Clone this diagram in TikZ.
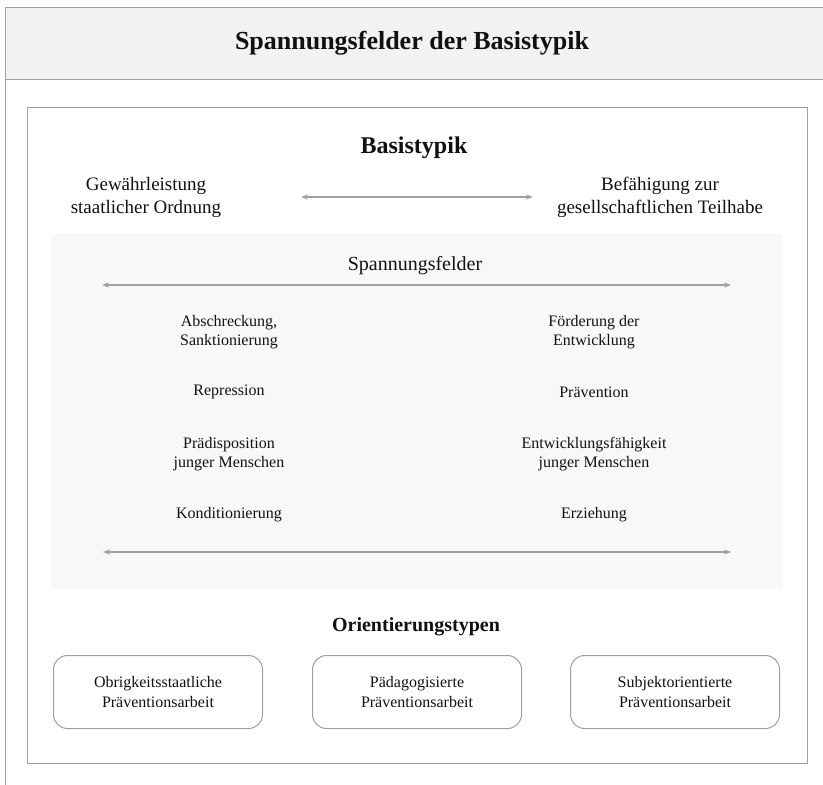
\documentclass[tikz,border=0pt]{standalone}
\usepackage{fontspec}
\setmainfont{Liberation Serif}
\usetikzlibrary{arrows.meta}
\definecolor{hdrfill}{HTML}{F2F2F2}
\definecolor{fieldfill}{HTML}{F8F8F8}
\definecolor{framegray}{HTML}{A0A0A0}
\definecolor{arrowgray}{HTML}{A0A0A0}
\definecolor{textblack}{HTML}{111111}
\tikzset{
  frameline/.style={draw=framegray, line width=1pt},
  txt/.style={text=textblack, inner sep=0pt, align=center},
  bigtxt/.style={txt, font=\fontsize{19}{23}\selectfont},
  midtxt/.style={txt, font=\fontsize{16}{19.5}\selectfont},
  biarrow/.style={draw=arrowgray, line width=1.2pt, {Stealth[length=7pt,width=5pt]}-{Stealth[length=7pt,width=5pt]}},
  typebox/.style={draw=framegray, line width=1pt, rounded corners=14pt, minimum width=209pt, minimum height=73pt, fill=white, text=textblack, align=center, font=\fontsize{16}{19.5}\selectfont, inner sep=0pt}
}
\begin{document}
\begin{tikzpicture}[x=1pt,y=-1pt]
\useasboundingbox (0,0) rectangle (823,785);
% outer frame
\draw[frameline] (5,7) -- (5,785);
\fill[hdrfill] (5,7) rectangle (830,79);
\draw[frameline] (830,7) -- (5,7) -- (5,79) -- (830,79);
\node[txt, font=\fontsize{26}{31}\selectfont\bfseries] (title) at (412,43) {Spannungsfelder der Basistypik};
% inner box
\draw[frameline, fill=white] (27,107) rectangle (807,763);
\node[txt, font=\fontsize{24}{29}\selectfont\bfseries] (basis) at (414,148) {Basistypik};
\node[bigtxt] (gew) at (146,197) {Gewährleistung\\staatlicher Ordnung};
\node[bigtxt] (bef) at (660,197) {Befähigung zur\\gesellschaftlichen Teilhabe};
\coordinate (ba1) at (301,197);
\coordinate (ba2) at (533,197);
\draw[biarrow] (ba1) -- (ba2);
% field area
\fill[fieldfill] (51,234) rectangle (783,589);
\node[txt, font=\fontsize{20}{24}\selectfont] (spf) at (415,266) {Spannungsfelder};
\coordinate (ta1) at (102,285);
\coordinate (ta2) at (731,285);
\draw[biarrow] (ta1) -- (ta2);
\node[midtxt] (l1) at (229,332) {Abschreckung,\\Sanktionierung};
\node[midtxt] (r1) at (594,332) {Förderung der\\Entwicklung};
\node[midtxt] (l2) at (229,392) {Repression};
\node[midtxt] (r2) at (594,392) {Prävention};
\node[midtxt] (l3) at (229,454) {Prädisposition\\junger Menschen};
\node[midtxt] (r3) at (594,454) {Entwicklungsfähigkeit\\junger Menschen};
\node[midtxt] (l4) at (229,515) {Konditionierung};
\node[midtxt] (r4) at (594,515) {Erziehung};
\coordinate (bb1) at (103,552);
\coordinate (bb2) at (731,552);
\draw[biarrow] (bb1) -- (bb2);
% orientation types
\node[txt, font=\fontsize{20}{24}\selectfont\bfseries] (ori) at (416,627) {Orientierungstypen};
\node[typebox] (o1) at (158,692) {Obrigkeitsstaatliche\\Präventionsarbeit};
\node[typebox] (o2) at (417,692) {Pädagogisierte\\Präventionsarbeit};
\node[typebox] (o3) at (675,692) {Subjektorientierte\\Präventionsarbeit};
\end{tikzpicture}
\end{document}
